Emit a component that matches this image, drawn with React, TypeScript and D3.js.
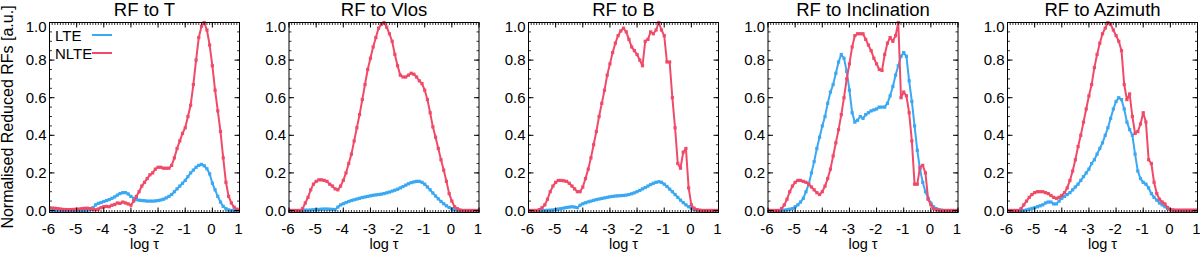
import React from "react";
import * as d3 from "d3";

const logTau = [
  -6.0, -5.9, -5.8, -5.7, -5.6, -5.5, -5.4, -5.3, -5.2, -5.1,
  -5.0, -4.9, -4.8, -4.7, -4.6, -4.5, -4.4, -4.3, -4.2, -4.1,
  -4.0, -3.9, -3.8, -3.7, -3.6, -3.5, -3.4, -3.3, -3.2, -3.1,
  -3.0, -2.9, -2.8, -2.7, -2.6, -2.5, -2.4, -2.3, -2.2, -2.1,
  -2.0, -1.9, -1.8, -1.7, -1.6, -1.5, -1.4, -1.3, -1.2, -1.1,
  -1.0, -0.9, -0.8, -0.7, -0.6, -0.5, -0.4, -0.3, -0.2, -0.1,
  0.0, 0.1, 0.2, 0.3, 0.4, 0.5, 0.6, 0.7, 0.8, 0.9,
  1.0,
];

const titles = ["RF to T", "RF to Vlos", "RF to B", "RF to Inclination", "RF to Azimuth"];
const seriesNames = ["LTE", "NLTE"];
const xTicks = [-6, -5, -4, -3, -2, -1, 0, 1];
const yTicks = [0, 0.2, 0.4, 0.6, 0.8, 1.0];
const yLabel = "Normalised Reduced RFs [a.u.]";
const xLabel = "log \u03c4";

const tLte = [
  0, 0, 0, 0, 0, 0, 0, 0, 0, 0,
  0, 0, 0, 0, 0.002, 0.005, 0.015, 0.03, 0.038, 0.042,
  0.048, 0.053, 0.058, 0.065, 0.072, 0.082, 0.09, 0.095, 0.095, 0.088,
  0.075, 0.065, 0.058, 0.055, 0.053, 0.052, 0.05, 0.05, 0.05, 0.051,
  0.053, 0.056, 0.06, 0.067, 0.075, 0.085, 0.1, 0.115, 0.13, 0.145,
  0.16, 0.18, 0.2, 0.215, 0.23, 0.24, 0.245, 0.238, 0.222, 0.195,
  0.145, 0.11, 0.075, 0.045, 0.022, 0.01, 0.003, 0, 0, 0,
  0,
];
const tNlte = [
  0.015, 0.013, 0.012, 0.01, 0.008, 0.006, 0.005, 0.005, 0.005, 0.006,
  0.007, 0.008, 0.01, 0.012, 0.012, 0.01, 0.006, 0.004, 0.008, 0.015,
  0.02, 0.022, 0.02, 0.028, 0.032, 0.04, 0.038, 0.045, 0.04, 0.035,
  0.028, 0.05, 0.075, 0.1, 0.13, 0.15, 0.17, 0.19, 0.2, 0.22,
  0.23, 0.23, 0.225, 0.225, 0.225, 0.24, 0.28, 0.33, 0.37, 0.41,
  0.44, 0.5, 0.56, 0.67, 0.8, 0.92, 0.98, 1.0, 0.96, 0.88,
  0.77, 0.64, 0.53, 0.42, 0.28, 0.15, 0.075, 0.04, 0.018, 0.007,
  0.002,
];

const vlosLte = [
  0, 0, 0, 0, 0, 0.001, 0.002, 0.002, 0.003, 0.004,
  0.005, 0.006, 0.007, 0.008, 0.008, 0.007, 0.006, 0.005, 0.018, 0.03,
  0.036, 0.042, 0.048, 0.053, 0.057, 0.061, 0.065, 0.069, 0.072, 0.075,
  0.078, 0.081, 0.083, 0.085, 0.087, 0.09, 0.094, 0.098, 0.103, 0.108,
  0.113, 0.12, 0.127, 0.135, 0.142, 0.148, 0.152, 0.155, 0.155, 0.15,
  0.14, 0.125, 0.11, 0.093, 0.077, 0.062, 0.048, 0.036, 0.025, 0.016,
  0.009, 0.004, 0.001, 0, 0, 0, 0, 0, 0, 0,
  0,
];
const vlosNlte = [
  0, 0, 0, 0, 0, 0.01, 0.04, 0.07, 0.11, 0.14,
  0.155, 0.163, 0.163, 0.16, 0.155, 0.14, 0.13, 0.115, 0.11, 0.13,
  0.16, 0.2, 0.25, 0.3, 0.37, 0.44, 0.51, 0.59, 0.67, 0.75,
  0.81, 0.87, 0.92, 0.97, 0.99, 1.0, 0.975, 0.94, 0.9, 0.83,
  0.77, 0.72, 0.71, 0.71, 0.72, 0.73, 0.725, 0.71, 0.69, 0.675,
  0.64, 0.59, 0.52, 0.445, 0.39, 0.33, 0.27, 0.215, 0.155, 0.09,
  0.05, 0.02, 0.01, 0.003, 0, 0, 0, 0, 0, 0,
  0,
];

const bLte = [
  0, 0, 0, 0, 0, 0, 0, 0.001, 0.002, 0.003,
  0.005, 0.008, 0.01, 0.013, 0.016, 0.018, 0.02, 0.018, 0.015, 0.028,
  0.036, 0.041, 0.046, 0.05, 0.054, 0.058, 0.061, 0.064, 0.067, 0.07,
  0.073, 0.075, 0.077, 0.078, 0.079, 0.08, 0.082, 0.085, 0.089, 0.094,
  0.1, 0.107, 0.115, 0.122, 0.13, 0.138, 0.145, 0.15, 0.153, 0.15,
  0.14, 0.128, 0.114, 0.1, 0.085, 0.07, 0.055, 0.042, 0.03, 0.02,
  0.012, 0.006, 0.002, 0, 0, 0, 0, 0, 0, 0,
  0,
];
const bNlte = [
  0, 0, 0, 0, 0.005, 0.015, 0.03, 0.06, 0.1, 0.13,
  0.15, 0.16, 0.16, 0.158, 0.155, 0.145, 0.13, 0.115, 0.1, 0.1,
  0.125, 0.17, 0.22, 0.28, 0.35, 0.42, 0.5, 0.57, 0.64, 0.72,
  0.78, 0.84, 0.89, 0.93, 0.955, 0.97, 0.95, 0.91, 0.87, 0.85,
  0.83, 0.8, 0.77, 0.9, 0.91, 0.95, 0.94, 0.96, 1.0, 0.96,
  0.93, 0.79, 0.79, 0.6, 0.44, 0.25, 0.225, 0.31, 0.33, 0.12,
  0.03, 0.012, 0.005, 0.002, 0, 0, 0, 0, 0, 0,
  0,
];

const inclLte = [
  0, 0, 0, 0, 0, 0, 0.002, 0.004, 0.007, 0.01,
  0.02, 0.03, 0.045, 0.065, 0.1, 0.14, 0.2, 0.26, 0.33, 0.39,
  0.45, 0.5, 0.57, 0.63, 0.67, 0.73, 0.79, 0.83, 0.81, 0.74,
  0.64, 0.52, 0.47, 0.48, 0.5, 0.49, 0.51, 0.52, 0.53, 0.535,
  0.54, 0.55, 0.55, 0.55, 0.57, 0.61, 0.66, 0.72, 0.77, 0.82,
  0.84, 0.82, 0.69, 0.58, 0.45, 0.32, 0.22, 0.15, 0.1, 0.065,
  0.04, 0.02, 0.01, 0.005, 0.002, 0, 0, 0, 0, 0,
  0,
];
const inclNlte = [
  0, 0, 0, 0, 0, 0.01, 0.03, 0.06, 0.1, 0.13,
  0.15, 0.16, 0.16, 0.155, 0.15, 0.14, 0.125, 0.11, 0.095, 0.085,
  0.1, 0.13, 0.17, 0.22, 0.29, 0.36, 0.43, 0.51, 0.6, 0.7,
  0.78, 0.87, 0.93, 0.94, 0.94, 0.94, 0.91, 0.88, 0.85, 0.81,
  0.78, 0.75, 0.745, 0.83, 0.89, 0.92, 0.9, 0.93, 1.0, 0.6,
  0.63, 0.61, 0.52, 0.37, 0.14, 0.14, 0.23, 0.24, 0.2, 0.06,
  0.03, 0.01, 0.004, 0.001, 0, 0, 0, 0, 0, 0,
  0,
];

const aziLte = [
  0, 0, 0, 0, 0, 0, 0, 0.003, 0.007, 0.011,
  0.015, 0.02, 0.025, 0.03, 0.04, 0.045, 0.045, 0.035, 0.035, 0.05,
  0.065, 0.075, 0.085, 0.095, 0.11, 0.125, 0.14, 0.16, 0.18, 0.2,
  0.22, 0.25, 0.27, 0.3, 0.33, 0.36, 0.4, 0.44, 0.49, 0.54,
  0.58, 0.6, 0.59, 0.54, 0.47, 0.43, 0.4, 0.3, 0.21, 0.17,
  0.15, 0.14, 0.12, 0.09, 0.07, 0.055, 0.04, 0.03, 0.02, 0.01,
  0.005, 0.002, 0, 0, 0, 0, 0, 0, 0, 0,
  0,
];
const aziNlte = [
  0, 0, 0, 0, 0, 0.01, 0.03, 0.05, 0.07, 0.085,
  0.095, 0.1, 0.1, 0.1, 0.095, 0.09, 0.08, 0.07, 0.065, 0.07,
  0.08, 0.095, 0.12, 0.16, 0.21, 0.27, 0.34, 0.4, 0.47, 0.54,
  0.61, 0.67, 0.76, 0.83, 0.89, 0.94, 0.97, 1.0, 0.99, 0.96,
  0.93, 0.9, 0.85, 0.67, 0.59, 0.62, 0.5, 0.41, 0.42, 0.46,
  0.52, 0.47, 0.27, 0.25, 0.15, 0.09, 0.06, 0.045, 0.035, 0.015,
  0.005, 0.003, 0.002, 0.002, 0.002, 0.002, 0.002, 0.002, 0.002, 0.002,
  0.002,
];

const lteSeries = [tLte, vlosLte, bLte, inclLte, aziLte];
const nlteSeries = [tNlte, vlosNlte, bNlte, inclNlte, aziNlte];

const BLUE = "#3aa8f2";
const RED = "#f04a68";
const FONT = "'Liberation Sans', Arial, Helvetica, sans-serif";

const W = 1200;
const H = 253;
const panelLeft0 = 49.5;
const panelStep = 239.5;
const panelW = 190;
const plotTop = 22.5;
const plotBottom = 212.5;

function Panel({ idx }: { idx: number }) {
  const left = panelLeft0 + panelStep * idx;
  const x = d3.scaleLinear().domain([-6, 1]).range([left, left + panelW]);
  const y = d3.scaleLinear().domain([-0.0106, 1.0]).range([plotBottom, plotTop]);
  const clipId = `clip-${idx}`;

  const line = d3
    .line<number>()
    .x((_, i) => x(logTau[i]))
    .y((d) => y(d));

  const minorX = d3.range(-60, 11).map((v) => v / 10);
  const minorY = d3.range(0, 21).map((v) => v / 20);

  const series = [
    { data: lteSeries[idx], color: BLUE },
    { data: nlteSeries[idx], color: RED },
  ];

  return (
    <g>
      <defs>
        <clipPath id={clipId}>
          <rect x={left} y={plotTop - 2} width={panelW} height={plotBottom - plotTop + 2} />
        </clipPath>
      </defs>
      <text
        x={left + panelW / 2}
        y={16}
        textAnchor="middle"
        fontFamily={FONT}
        fontSize={18.5}
        fill="#000"
      >
        {titles[idx]}
      </text>
      <g clipPath={`url(#${clipId})`}>
        {series.map((s, k) => (
          <g key={k}>
            <path d={line(s.data) || ""} fill="none" stroke={s.color} strokeWidth={2} strokeLinejoin="round" />
            {s.data.map((v, i) => (
              <rect
                key={i}
                x={x(logTau[i]) - 1.6}
                y={y(v) - 1.6}
                width={3.2}
                height={3.2}
                fill={s.color}
              />
            ))}
          </g>
        ))}
      </g>
      <rect x={left} y={plotTop} width={panelW} height={plotBottom - plotTop} fill="none" stroke="#000" strokeWidth={1} />
      {minorX.map((v, i) => (
        <g key={`mx${i}`}>
          <line x1={x(v)} x2={x(v)} y1={plotBottom} y2={plotBottom - 2.5} stroke="#000" strokeWidth={0.8} />
          <line x1={x(v)} x2={x(v)} y1={plotTop} y2={plotTop + 2.5} stroke="#000" strokeWidth={0.8} />
        </g>
      ))}
      {xTicks.map((v) => (
        <g key={`x${v}`}>
          <line x1={x(v)} x2={x(v)} y1={plotBottom} y2={plotBottom - 5} stroke="#000" strokeWidth={1} />
          <line x1={x(v)} x2={x(v)} y1={plotTop} y2={plotTop + 5} stroke="#000" strokeWidth={1} />
          <text x={x(v) - 1} y={233.5} textAnchor="middle" fontFamily={FONT} fontSize={15} fill="#000">
            {v < 0 ? `-${Math.abs(v)}` : `${v}`}
          </text>
        </g>
      ))}
      {minorY.map((v, i) => (
        <g key={`my${i}`}>
          <line x1={left} x2={left + 2.5} y1={y(v)} y2={y(v)} stroke="#000" strokeWidth={0.8} />
          <line x1={left + panelW} x2={left + panelW - 2.5} y1={y(v)} y2={y(v)} stroke="#000" strokeWidth={0.8} />
        </g>
      ))}
      {yTicks.map((v) => (
        <g key={`y${v}`}>
          <line x1={left} x2={left + 5} y1={y(v)} y2={y(v)} stroke="#000" strokeWidth={1} />
          <line x1={left + panelW} x2={left + panelW - 5} y1={y(v)} y2={y(v)} stroke="#000" strokeWidth={1} />
          <text
            x={left - 3}
            y={Math.max(y(v), 26.5) + 5}
            textAnchor="end"
            fontFamily={FONT}
            fontSize={15}
            fill="#000"
          >
            {v.toFixed(1)}
          </text>
        </g>
      ))}
      <text x={left + panelW / 2} y={249.3} textAnchor="middle" fontFamily={FONT} fontSize={14.5} fill="#000">
        {xLabel}
      </text>
    </g>
  );
}

export default function App() {
  const legendX = 55;
  return (
    <svg
      width={W}
      height={H}
      viewBox={`0 0 ${W} ${H}`}
      style={{ position: "absolute", left: 0, top: 0, background: "#fff" }}
    >
      <rect x={0} y={0} width={W} height={H} fill="#fff" />
      {titles.map((_, i) => (
        <Panel key={i} idx={i} />
      ))}
      <text
        transform={`translate(13, 117) rotate(-90)`}
        textAnchor="middle"
        fontFamily={FONT}
        fontSize={16}
        fill="#000"
      >
        {yLabel}
      </text>
      {seriesNames.map((name, i) => (
        <g key={name}>
          <text x={legendX} y={40.5 + i * 18} fontFamily={FONT} fontSize={15} fill="#000">
            {name}
          </text>
          <line
            x1={92}
            x2={112}
            y1={35 + i * 18}
            y2={35 + i * 18}
            stroke={i === 0 ? BLUE : RED}
            strokeWidth={2}
          />
        </g>
      ))}
    </svg>
  );
}
